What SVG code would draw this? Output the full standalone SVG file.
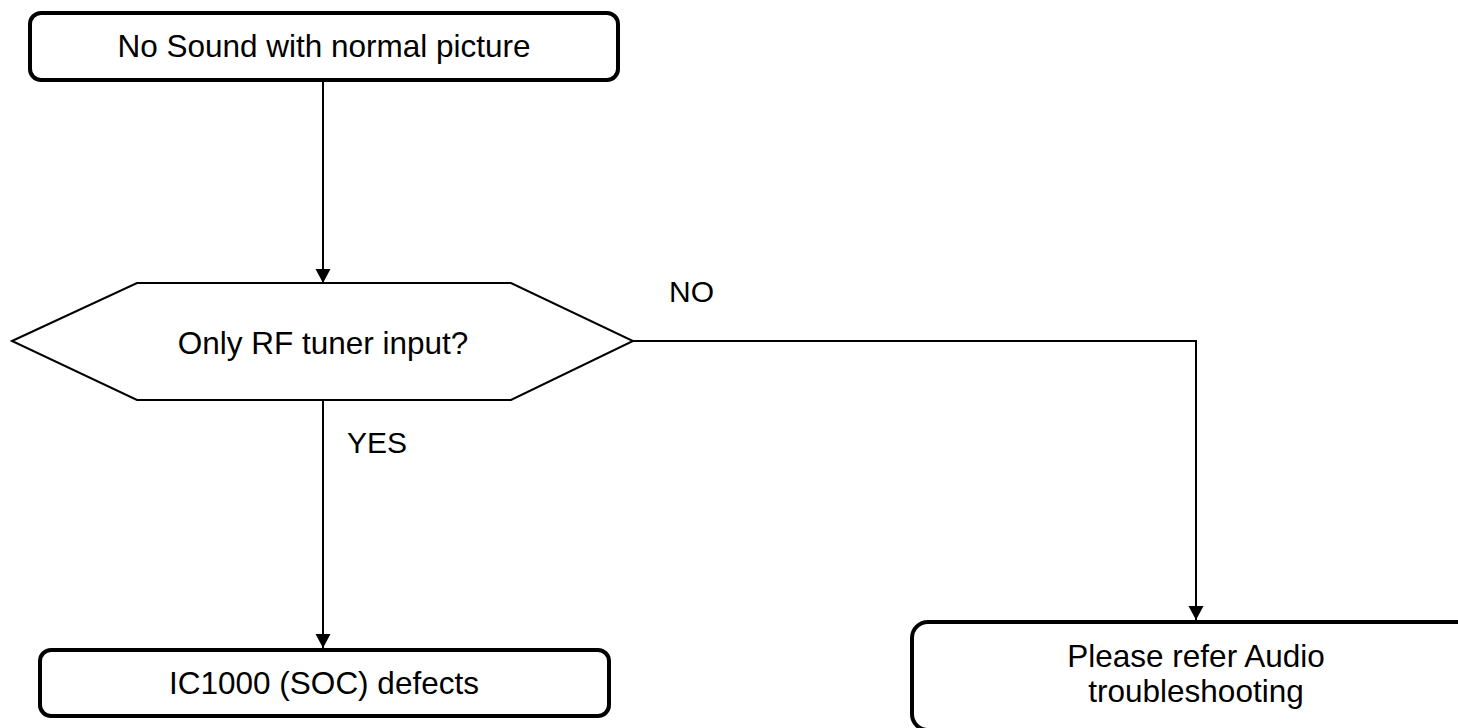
<svg xmlns="http://www.w3.org/2000/svg" width="1458" height="728" viewBox="0 0 1458 728">
<style>
  .box { fill: #ffffff; stroke: #000000; stroke-width: 4; }
  .hex { fill: #ffffff; stroke: #000000; stroke-width: 2; }
  .conn { fill: none; stroke: #000000; stroke-width: 2; }
  .t { font-family: "Liberation Sans", Arial, sans-serif; font-size: 31.5px; fill: #000000; text-anchor: middle; }
  .lbl { font-family: "Liberation Sans", Arial, sans-serif; font-size: 30px; fill: #000000; }
</style>
<defs>
  <marker id="arrow" markerUnits="userSpaceOnUse" markerWidth="16" markerHeight="16" viewBox="0 0 14 16" refX="14" refY="8" orient="auto">
    <path d="M0,0.5 L14,8 L0,15.5 Z" fill="#000000"/>
  </marker>
</defs>
<rect x="0" y="0" width="1458" height="728" fill="#ffffff"/>
<g id="connectors">
  <line class="conn" x1="323" y1="80" x2="323" y2="283" marker-end="url(#arrow)"/>
  <line class="conn" x1="323" y1="400" x2="323" y2="648" marker-end="url(#arrow)"/>
  <polyline class="conn" points="633,341 1196,341 1196,620" marker-end="url(#arrow)"/>
  <text class="lbl" x="669" y="302">NO</text>
  <text class="lbl" x="347" y="453">YES</text>
</g>
<g id="start">
  <rect class="box" x="30" y="13" width="588" height="67" rx="11" ry="11"/>
  <text class="t" x="324" y="57">No Sound with normal picture</text>
</g>
<g id="decision">
  <polygon class="hex" points="12,341 137,283 511,283 633,341 511,400 137,400"/>
  <text class="t" x="323" y="354">Only RF tuner input?</text>
</g>
<g id="soc">
  <rect class="box" x="40" y="650" width="569" height="66" rx="11" ry="11"/>
  <text class="t" x="324" y="694">IC1000 (SOC) defects</text>
</g>
<g id="audio">
  <rect class="box" x="912" y="622" width="600" height="108" rx="16" ry="16"/>
  <text class="t" x="1196" y="667">Please refer Audio</text>
  <text class="t" x="1196" y="702">troubleshooting</text>
</g>
</svg>
